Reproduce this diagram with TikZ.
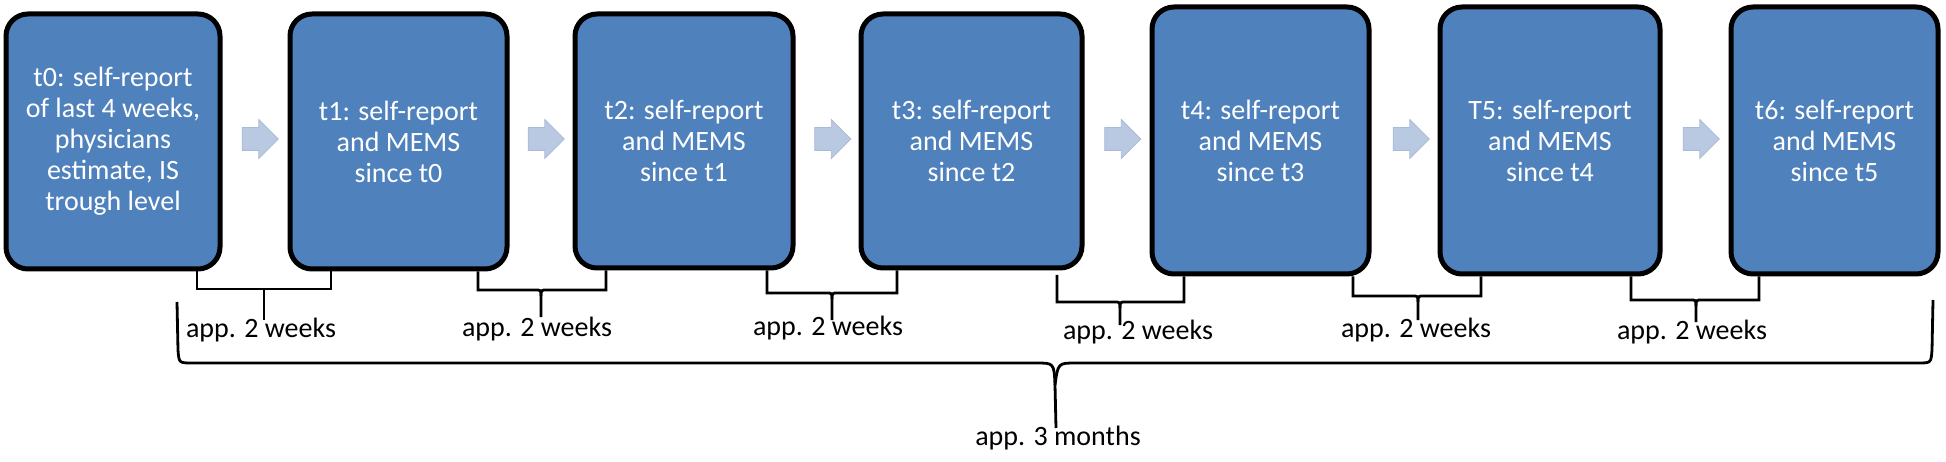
\documentclass[tikz,border=0pt]{standalone}
\usepackage{fontspec}
\setmainfont{Carlito}
\usetikzlibrary{shapes.arrows,calc}
\definecolor{boxblue}{HTML}{4F81BD}
\definecolor{arrowblue}{HTML}{B9C9E1}
\definecolor{arrowedge}{HTML}{A9BBD7}
\begin{document}
\begin{tikzpicture}[x=1pt,y=-1pt,
  tbox/.style={draw=black,line width=5pt,fill=boxblue,rounded corners=22pt,
    text=white,align=center,font=\fontsize{28}{31}\selectfont,inner sep=0pt},
  flow/.style={single arrow,fill=arrowblue,draw=arrowedge,line width=0.8pt,
    inner xsep=0pt,inner ysep=11pt,
    minimum height=36pt,single arrow head extend=8pt,
    single arrow head indent=0pt},
  brk/.style={draw=black,line width=2.8pt,line join=miter},
  lbl/.style={text=black,font=\fontsize{28}{31}\selectfont,inner sep=0pt}
]
\useasboundingbox (0,0) rectangle (1946,462);

% boxes
\node[tbox,minimum width=214pt,minimum height=255pt] (b0) at (113,141.5)
  {t0: self-report\\of last 4 weeks,\\physicians\\estimate, IS\\trough level};
\node[tbox,minimum width=217pt,minimum height=255pt] (b1) at (398.5,141.5)
  {t1: self-report\\and MEMS\\since t0};
\node[tbox,minimum width=218pt,minimum height=254pt] (b2) at (684,141)
  {t2: self-report\\and MEMS\\since t1};
\node[tbox,minimum width=221pt,minimum height=254pt] (b3) at (971.5,141)
  {t3: self-report\\and MEMS\\since t2};
\node[tbox,minimum width=217pt,minimum height=267pt] (b4) at (1260.5,140.5)
  {t4: self-report\\and MEMS\\since t3};
\node[tbox,minimum width=220pt,minimum height=267pt] (b5) at (1550,140.5)
  {T5: self-report\\and MEMS\\since t4};
\node[tbox,minimum width=207pt,minimum height=267pt] (b6) at (1834.5,140.5)
  {t6: self-report\\and MEMS\\since t5};

% flow arrows
\node[flow] (a1) at (254.5,139) {};
\node[flow] (a2) at (540.5,139) {};
\node[flow] (a3) at (827,139) {};
\node[flow] (a4) at (1117,139) {};
\node[flow] (a5) at (1405.5,139) {};
\node[flow] (a6) at (1695.5,139) {};

% small brackets
\draw[brk] (197,0 |- b0.south) -- (197,289) -- (331,289) -- (331,0 |- b1.south);
\draw[brk] (264,289) -- (264,320);

\draw[brk] (478,0 |- b1.south) -- (478,290) -- (535,290) .. controls (541,290) .. (541,296) -- (541,317);
\draw[brk] (541,296) .. controls (541,290) .. (547,290) -- (606,290) -- (606,0 |- b2.south);

\draw[brk] (767,0 |- b2.south) -- (767,293) -- (826,293) .. controls (832,293) .. (832,299) -- (832,320);
\draw[brk] (832,299) .. controls (832,293) .. (838,293) -- (897,293) -- (897,0 |- b3.south);

\coordinate (s4) at (1057,275);
\draw[brk] (s4) -- (1057,302) -- (1114,302) .. controls (1120,302) .. (1120,308) -- (1120,325);
\draw[brk] (1120,308) .. controls (1120,302) .. (1126,302) -- (1184,302) -- (1184,0 |- b4.south);

\draw[brk] (1353,0 |- b4.south) -- (1353,296) -- (1412,296) .. controls (1418,296) .. (1418,302) -- (1418,320);
\draw[brk] (1418,302) .. controls (1418,296) .. (1424,296) -- (1481,296) -- (1481,0 |- b5.south);

\draw[brk] (1631,0 |- b5.south) -- (1631,300) -- (1690,300) .. controls (1696,300) .. (1696,306) -- (1696,322);
\draw[brk] (1696,306) .. controls (1696,300) .. (1702,300) -- (1759,300) -- (1759,0 |- b6.south);

% labels
\node[lbl] (l1) at (261,330) {app. 2 weeks};
\node[lbl] (l2) at (537,329) {app. 2 weeks};
\node[lbl] (l3) at (828,328) {app. 2 weeks};
\node[lbl] (l4) at (1138,332) {app. 2 weeks};
\node[lbl] (l5) at (1416,330) {app. 2 weeks};
\node[lbl] (l6) at (1692,332) {app. 2 weeks};

% big brace
\coordinate (bl) at (177,302);
\coordinate (br) at (1933,300);
\draw[brk,line join=round] (bl) -- (178,350) .. controls (179,363) .. (192,363) -- (1036,363)
  .. controls (1054,363) .. (1055,385) -- (1056,428);
\draw[brk,line join=round] (1055,385) .. controls (1058,363) .. (1076,363) -- (1918,363)
  .. controls (1931,363) .. (1932,350) -- (br);
\node[lbl] (lb) at (1058,438) {app. 3 months};
\end{tikzpicture}
\end{document}
